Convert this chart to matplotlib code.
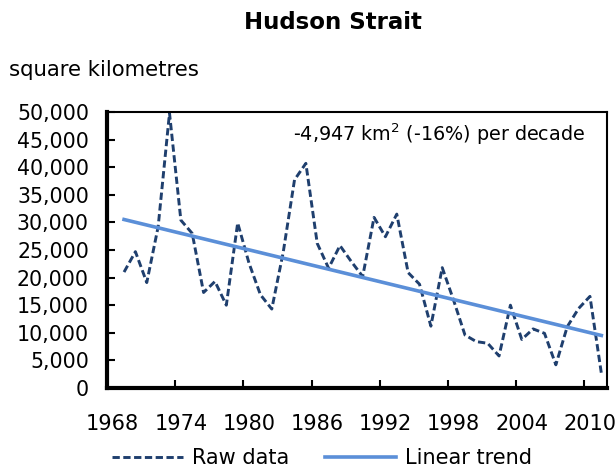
import numpy as np
import matplotlib
matplotlib.use("Agg")
from matplotlib import pyplot as plt
from matplotlib.ticker import FuncFormatter, FixedLocator

# Hudson Strait sea ice area (square km)
years = list(range(1969, 2012))
raw = [21000, 24700, 19100, 29200, 49800, 30400, 28000, 17300, 19300, 15000,
       29900, 22600, 16900, 14300, 24500, 37700, 40700, 26200, 21700, 25800,
       22900, 20200, 30900, 27400, 31500, 20900, 18800, 11200, 21800, 15900,
       9600, 8400, 8100, 5800, 15000, 8800, 10700, 9900, 4200, 11100,
       14400, 16600, 2700]
tick_years = [1968, 1974, 1980, 1986, 1992, 1998, 2004, 2010]
trend_label = "-4,947 km$^2$ (-16%) per decade"

col_raw = "#1f3f6e"
col_trend = "#5b8fd8"

plt.rcParams['font.family'] = ['DejaVu Sans']
fig = plt.figure(figsize=(6.16, 4.70), dpi=100)
ax = fig.add_axes([0.1737, 0.1745, 0.8117, 0.5872])

x = np.array(years)
y = np.array(raw)
k, b = np.polyfit(x, y, 1)

ax.plot(x, y, color=col_raw, lw=2.1, ls=(0, (2.5, 1.2)), label="Raw data")
ax.plot(x, k * x + b, color=col_trend, lw=2.6, label="Linear trend")

ax.set_xlim(1967.5, 2011.5)
ax.set_ylim(0, 50000)
ax.yaxis.set_major_locator(FixedLocator(np.arange(0, 50001, 5000)))
ax.yaxis.set_major_formatter(FuncFormatter(lambda v, p: f"{int(v):,}"))

# tick marks between categories, labels on the category
ax.xaxis.set_major_locator(FixedLocator([t - 0.5 for t in tick_years]))
ax.xaxis.set_major_formatter(FuncFormatter(lambda v, p: ""))
ax.xaxis.set_minor_locator(FixedLocator(tick_years))
ax.xaxis.set_minor_formatter(FuncFormatter(lambda v, p: str(int(v))))
ax.tick_params(axis='x', which='major', direction='in', length=6, width=1.5)
ax.tick_params(axis='x', which='minor', length=0, labelsize=15, pad=19)
ax.tick_params(axis='y', direction='in', length=6, width=1.5, labelsize=14.8, pad=13)
for s in ax.spines.values():
    s.set_linewidth(1.5)
ax.spines['left'].set_linewidth(3)
ax.spines['bottom'].set_linewidth(3)

ax.text(0.956, 0.92, trend_label, transform=ax.transAxes, ha='right', va='center',
        fontsize=13.8)

fig.text(0.54, 0.953, "Hudson Strait", ha='center', va='center',
         fontsize=16.5, fontweight='bold')
fig.text(0.014, 0.85, "square kilometres", ha='left', va='center', fontsize=15.3)

fig.legend(loc='center', bbox_to_anchor=(0.523, 0.025), ncol=2, frameon=False,
           fontsize=15, handlelength=3.4, handletextpad=0.45, columnspacing=1.7)

fig.savefig("out.png", dpi=100)
